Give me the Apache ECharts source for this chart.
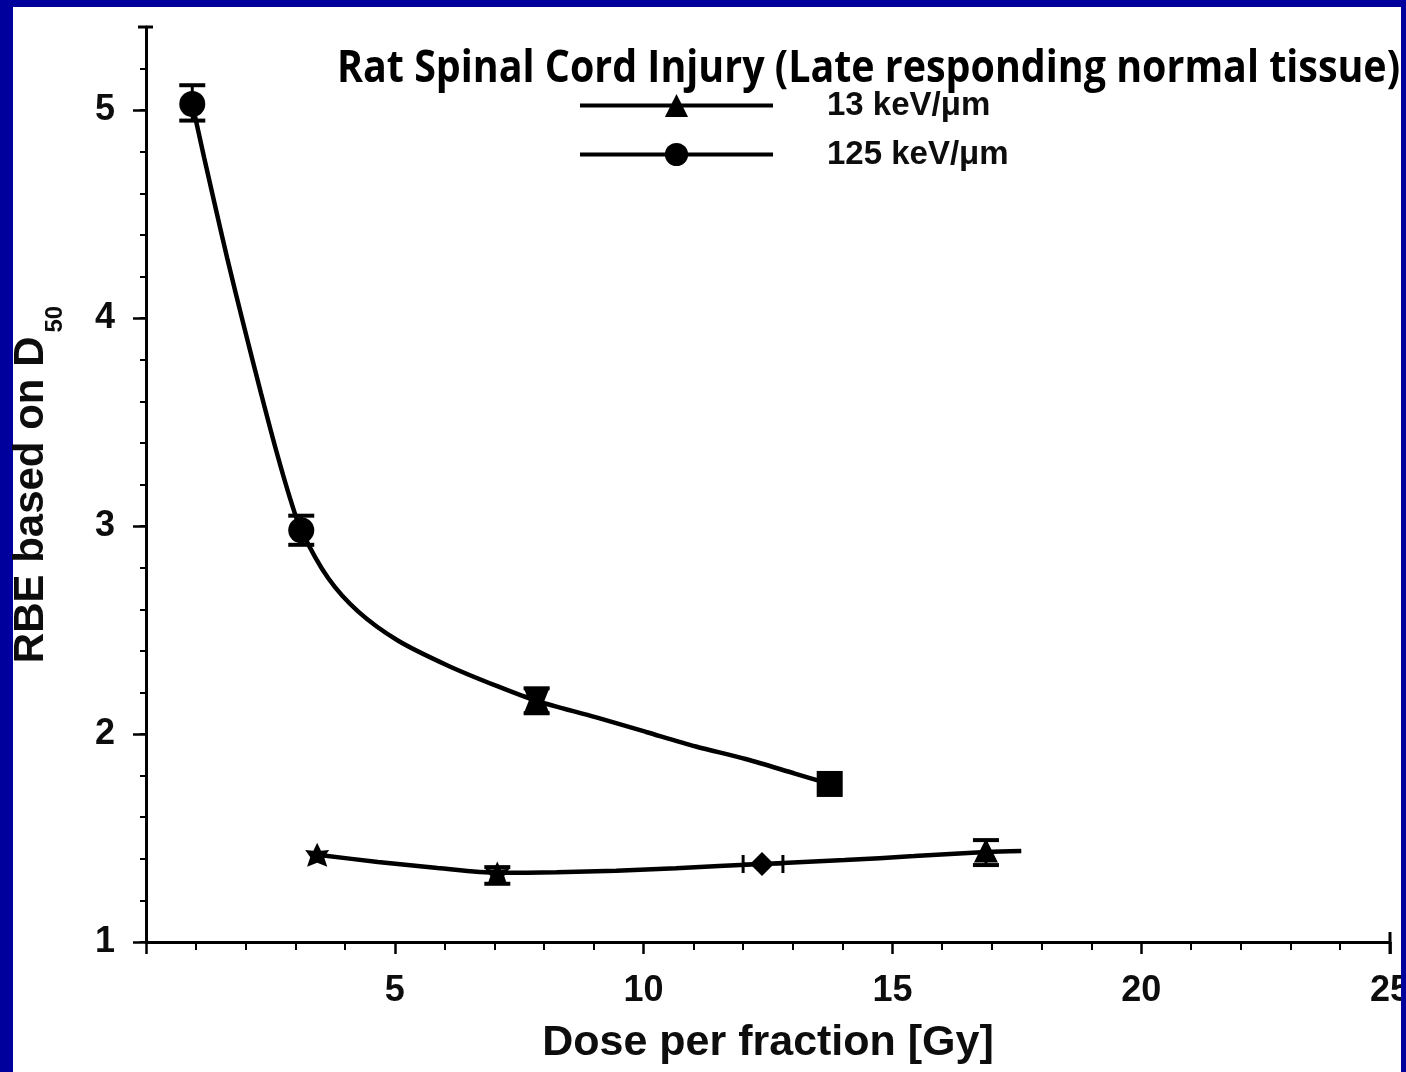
<!DOCTYPE html>
<html>
<head>
<meta charset="utf-8">
<script src="https://cdn.jsdelivr.net/npm/echarts@6/dist/echarts.min.js"></script>
<style>
  html, body { margin: 0; padding: 0; width: 1406px; height: 1072px; overflow: hidden; background: #00009c; }
  #panel { position: absolute; left: 13px; top: 7px; width: 1388px; height: 1065px; background: #ffffff; }
  #chart { position: absolute; left: 0; top: 0; width: 1406px; height: 1072px; }
  #edge { position: absolute; left: 1401px; top: 0; width: 5px; height: 1072px; background: #00009c; z-index: 5; }
</style>
</head>
<body>
<div id="panel"></div>
<div id="chart"></div>
<div id="edge"></div>
<script>
// RBE (based on D50) versus dose per fraction for two LET values
const TITLE = 'Rat Spinal Cord Injury (Late responding normal tissue)';
const LABEL_13 = '13 keV/μm';
const LABEL_125 = '125 keV/μm';
const X_NAME = 'Dose per fraction [Gy]';
const Y_NAME = 'RBE based on D{sub|50}';

// Measured points, 125 keV/μm
const dose125 = [0.93, 3.12, 7.85, 13.74];
const rbe125 = [5.03, 2.98, 2.16, 1.76];
// vertical error bars, 125 keV/μm
const err125Dose = [0.93, 3.12, 7.85];
const err125Low = [4.95, 2.91, 2.10];
const err125High = [5.12, 3.05, 2.22];

// Measured points, 13 keV/μm
const dose13 = [3.44, 7.06, 12.38, 16.88];
const rbe13 = [1.42, 1.33, 1.375, 1.44];
// vertical error bars, 13 keV/μm
const err13Dose = [7.06, 16.88];
const err13Low = [1.28, 1.37];
const err13High = [1.36, 1.49];
// horizontal error bar, 13 keV/μm
const herr13Rbe = [1.375];
const herr13Low = [12.0];
const herr13High = [12.8];

// Fitted curves
const fitDose125 = [0.93, 1.17, 1.37, 1.63, 1.97, 2.31, 2.62, 2.90, 3.12, 3.66, 4.26, 5.06, 6.06, 7.06, 7.85, 9.05, 10.05, 11.05, 12.05, 13.04, 13.74];
const fitRbe125 = [5.03, 4.77, 4.56, 4.29, 3.96, 3.64, 3.36, 3.13, 2.98, 2.75, 2.59, 2.45, 2.33, 2.23, 2.16, 2.08, 2.01, 1.94, 1.88, 1.81, 1.76];
const fitDose13 = [3.44, 4.66, 5.86, 7.06, 8.25, 9.45, 10.65, 12.38, 14.04, 15.44, 16.88, 17.59];
const fitRbe13 = [1.42, 1.385, 1.356, 1.333, 1.335, 1.343, 1.355, 1.375, 1.394, 1.413, 1.433, 1.438];

// Axis ticks
const xTicks = { min: 0, max: 25, interval: 5 };
const yTicks = { min: 1, max: 5.4, interval: 1, minorInterval: 0.2 };

// marker shapes per point
const STAR = 'path://M0,-10 L3,-4 9.5,-4.5 5.5,1 8,8 0,5 -8,8 -5.5,1 -9.5,-4.5 -3,-4 Z';
const BOWTIE = 'path://M-10,-10 L10,-10 L6,0 L10,10 L-10,10 L-6,0 Z';
const marks125 = ['circle', 'circle', BOWTIE, 'rect'];
const marks13 = [STAR, STAR, 'diamond', 'triangle'];

const FONT = '"Liberation Sans", Arial, Helvetica, sans-serif';
const INK = '#000';
const TEXT = '#0d0d0d';

const zip = (a, b) => a.map((v, i) => [v, b[i]]);

function verticalBars(params, api) {
  const x = api.value(0), lo = api.value(1), hi = api.value(2);
  const p1 = api.coord([x, lo]);
  const p2 = api.coord([x, hi]);
  const w = 13;
  return {
    type: 'group',
    children: [
      { type: 'line', shape: { x1: p1[0], y1: p1[1], x2: p2[0], y2: p2[1] }, style: { stroke: INK, lineWidth: 3 } },
      { type: 'line', shape: { x1: p1[0] - w, y1: p1[1], x2: p1[0] + w, y2: p1[1] }, style: { stroke: INK, lineWidth: 4 } },
      { type: 'line', shape: { x1: p2[0] - w, y1: p2[1], x2: p2[0] + w, y2: p2[1] }, style: { stroke: INK, lineWidth: 4 } }
    ]
  };
}

function horizontalBars(params, api) {
  const y = api.value(0), lo = api.value(1), hi = api.value(2);
  const p1 = api.coord([lo, y]);
  const p2 = api.coord([hi, y]);
  const h = 9;
  return {
    type: 'group',
    children: [
      { type: 'line', shape: { x1: p1[0], y1: p1[1], x2: p2[0], y2: p2[1] }, style: { stroke: INK, lineWidth: 3 } },
      { type: 'line', shape: { x1: p1[0], y1: p1[1] - h, x2: p1[0], y2: p1[1] + h }, style: { stroke: INK, lineWidth: 3 } },
      { type: 'line', shape: { x1: p2[0], y1: p2[1] - h, x2: p2[0], y2: p2[1] + h }, style: { stroke: INK, lineWidth: 3 } }
    ]
  };
}

// condensed bold title: squeeze to its span
const TITLE_FONT = 'bold 45px "Open Sans"';
const titleLeft = 337, titleRight = 1400;
const ctx = document.createElement('canvas').getContext('2d');
ctx.font = TITLE_FONT;
const titleScale = (titleRight - titleLeft) / ctx.measureText(TITLE).width;

const chart = echarts.init(document.getElementById('chart'), null, { renderer: 'canvas' });

const option = {
  backgroundColor: 'transparent',
  animation: false,
  grid: { left: 146, right: 16, top: 27, bottom: 130, containLabel: false, outerBoundsMode: 'none' },
  graphic: [{
    type: 'text',
    x: titleLeft,
    y: 69,
    scaleX: titleScale,
    z: 100,
    style: {
      text: TITLE,
      font: TITLE_FONT,
      fill: INK,
      align: 'left',
      verticalAlign: 'middle',
      textAlign: 'left',
      textVerticalAlign: 'middle'
    }
  }, {
    // end cap of the dose axis
    type: 'line',
    z: 50,
    shape: { x1: 1390, y1: 932, x2: 1390, y2: 954 },
    style: { stroke: INK, lineWidth: 3 }
  }, {
    // end cap of the RBE axis
    type: 'line',
    z: 50,
    shape: { x1: 138, y1: 27, x2: 153, y2: 27 },
    style: { stroke: INK, lineWidth: 3 }
  }],
  legend: {
    data: [LABEL_13, LABEL_125],
    orient: 'vertical',
    left: 578,
    top: 89,
    padding: 0,
    itemWidth: 193,
    itemHeight: 29,
    itemGap: 16,
    selectedMode: false,
    lineStyle: { width: 4, color: INK },
    itemStyle: { color: INK },
    textStyle: { fontSize: 33, fontWeight: 'bold', color: TEXT, fontFamily: FONT, padding: [0, 0, 0, 49] }
  },
  xAxis: {
    type: 'value',
    min: xTicks.min,
    max: xTicks.max,
    interval: xTicks.interval,
    name: X_NAME,
    nameLocation: 'middle',
    nameGap: 80,
    nameTextStyle: { fontSize: 43, fontWeight: 'bold', color: TEXT, fontFamily: FONT },
    axisLine: { show: true, onZero: false, lineStyle: { color: INK, width: 3 } },
    axisTick: { show: true, length: 12, lineStyle: { color: INK, width: 2.5 } },
    minorTick: { show: true, splitNumber: 5, length: 8, lineStyle: { color: INK, width: 2 } },
    splitLine: { show: false },
    minorSplitLine: { show: false },
    axisLabel: { showMinLabel: false, fontSize: 36, fontWeight: 'bold', color: TEXT, fontFamily: FONT, margin: 31 }
  },
  yAxis: [{
    type: 'value',
    position: 'left',
    min: yTicks.min,
    max: yTicks.max,
    interval: yTicks.interval,
    name: Y_NAME,
    nameLocation: 'middle',
    nameGap: 79,
    nameTextStyle: {
      fontSize: 42, fontWeight: 'bold', color: TEXT, fontFamily: FONT,
      rich: { sub: { fontSize: 24, fontWeight: 'bold', color: TEXT, fontFamily: FONT, padding: [48, 0, 0, 4] } }
    },
    axisLine: { show: true, onZero: false, lineStyle: { color: INK, width: 3 } },
    axisTick: { show: true, length: 13, lineStyle: { color: INK, width: 2.5 } },
    splitLine: { show: false },
    axisLabel: {
      showMaxLabel: false,
      fontSize: 36, fontWeight: 'bold', color: TEXT, fontFamily: FONT, margin: 31,
      formatter: v => (Math.abs(v - Math.round(v)) < 1e-6 ? String(Math.round(v)) : '')
    }
  }, {
    type: 'value',
    position: 'left',
    offset: 0,
    min: yTicks.min,
    max: yTicks.max,
    interval: yTicks.minorInterval,
    axisLine: { show: false, onZero: false },
    axisTick: { show: true, length: 6, lineStyle: { color: INK, width: 2 } },
    axisLabel: { show: false },
    splitLine: { show: false }
  }],
  series: [
    {
      name: LABEL_13, type: 'line', data: zip(fitDose13, fitRbe13),
      smooth: 0.3, symbol: 'triangle', showSymbol: false, silent: true, z: 3,
      lineStyle: { color: INK, width: 4.5 }, itemStyle: { color: INK }
    },
    {
      name: LABEL_125, type: 'line', data: zip(fitDose125, fitRbe125),
      smooth: 0.3, symbol: 'circle', showSymbol: false, silent: true, z: 3,
      lineStyle: { color: INK, width: 4.5 }, itemStyle: { color: INK }
    },
    {
      name: 'points125', type: 'scatter', z: 5, symbolSize: 26,
      itemStyle: { color: INK, opacity: 1 },
      data: dose125.map((x, i) => ({ value: [x, rbe125[i]], symbol: marks125[i] }))
    },
    {
      name: 'points13', type: 'scatter', z: 5, symbolSize: 24,
      itemStyle: { color: INK, opacity: 1 },
      data: dose13.map((x, i) => ({ value: [x, rbe13[i]], symbol: marks13[i] }))
    },
    {
      name: 'errors125', type: 'custom', z: 4, silent: true,
      renderItem: verticalBars, encode: { x: 0, y: [1, 2] },
      data: err125Dose.map((x, i) => [x, err125Low[i], err125High[i]])
    },
    {
      name: 'errors13', type: 'custom', z: 4, silent: true,
      renderItem: verticalBars, encode: { x: 0, y: [1, 2] },
      data: err13Dose.map((x, i) => [x, err13Low[i], err13High[i]])
    },
    {
      name: 'xerrors13', type: 'custom', z: 4, silent: true,
      renderItem: horizontalBars, encode: { y: 0, x: [1, 2] },
      data: herr13Rbe.map((y, i) => [y, herr13Low[i], herr13High[i]])
    }
  ]
};

chart.setOption(option);
</script>
</body>
</html>
